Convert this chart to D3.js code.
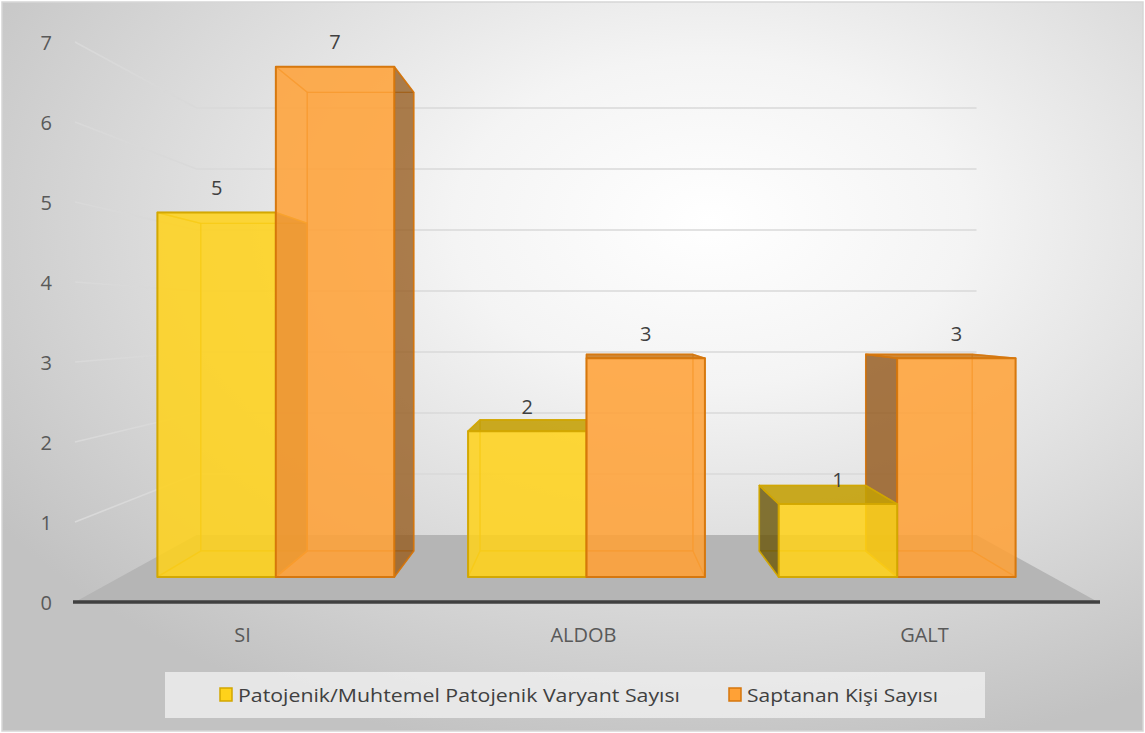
<!DOCTYPE html>
<html>
<head>
<meta charset="utf-8">
<script src="https://cdn.jsdelivr.net/npm/d3@7"></script>
<style>
  body { margin: 0; background: #fff; }
  svg { display: block; font-family: "Open Sans", "Noto Sans", sans-serif; }
</style>
</head>
<body>
<svg width="1145" height="733"></svg>
<script>
var categories = ["SI", "ALDOB", "GALT"];
var seriesNames = ["Patojenik/Muhtemel Patojenik Varyant Sayısı", "Saptanan Kişi Sayısı"];
var variantCounts = [5, 2, 1];
var personCounts = [7, 3, 3];
var yTicks = [0, 1, 2, 3, 4, 5, 6, 7];

var svg = d3.select("svg");
var width = +svg.attr("width");
var height = +svg.attr("height");

// colours per series
var palette = [
	{ front: "#ffd21a", stroke: "#d2a600", top: "#c29e05", side: "#5e4c08" },
	{ front: "#ffa136", stroke: "#d5760c", top: "#c97a1e", side: "#8a5218" }
];

// front plane scales
var x = d3.scaleBand().domain(categories).range([75, 1098]).paddingInner(0.2375).paddingOuter(0.11875);
var xs = d3.scaleBand().domain([0, 1]).range([0, x.bandwidth()]);
var y = d3.scaleLinear().domain([0, 7]).range([602, 42]);

// simple perspective: shrink toward a vanishing point
var vp = { x: (75 + 1098) / 2, y: 320 };
var sFront = 0.911, sBack = 0.819, sWall = 0.7625;
function P(X, Y, s) { return [vp.x + s * (X - vp.x), vp.y + s * (Y - vp.y)]; }
function poly(pts) { return "M" + pts.map(function(p) { return p[0] + "," + p[1]; }).join("L") + "Z"; }

// background
var defs = svg.append("defs");
var grad = defs.append("radialGradient").attr("id", "bg")
	.attr("cx", "62%").attr("cy", "30%").attr("r", "75%");
grad.append("stop").attr("offset", "0%").attr("stop-color", "#ffffff");
grad.append("stop").attr("offset", "30%").attr("stop-color", "#f4f4f4");
grad.append("stop").attr("offset", "100%").attr("stop-color", "#c2c2c2");

svg.append("rect").attr("x", 2).attr("y", 2).attr("width", width - 4).attr("height", height - 4)
	.attr("fill", "url(#bg)").attr("stroke", "#d6d6d6").attr("stroke-width", 1.5);

// gridlines: left wall + back wall
var grid = svg.append("g").attr("class", "grid");
yTicks.slice(1).forEach(function(v) {
	var a = P(75, y(v), 1), b = P(75, y(v), sWall), c = P(1098, y(v), sWall);
	grid.append("path").attr("d", "M" + a + "L" + b + "L" + c)
		.attr("fill", "none").attr("stroke", "#d9d9d9").attr("stroke-width", 1.6);
});

// floor
svg.append("path")
	.attr("d", poly([P(75, y(0), 1), P(1098, y(0), 1), P(1098, y(0), sWall), P(75, y(0), sWall)]))
	.attr("fill", "#b5b5b5");
svg.append("line")
	.attr("x1", 73).attr("x2", 1100).attr("y1", y(0)).attr("y2", y(0))
	.attr("stroke", "#404040").attr("stroke-width", 3.5);

// bars
var bars = [];
categories.forEach(function(c, i) {
	[variantCounts[i], personCounts[i]].forEach(function(v, j) {
		var x0 = x(c) + xs(j), x1 = x0 + xs.bandwidth();
		bars.push({ cat: c, series: j, value: v, x0: x0, x1: x1 });
	});
});
bars.sort(function(a, b) {
	return Math.abs((b.x0 + b.x1) / 2 - vp.x) - Math.abs((a.x0 + a.x1) / 2 - vp.x);
});

var barG = svg.append("g").attr("class", "bars");
bars.forEach(function(d) {
	var col = palette[d.series];
	var y0 = y(0), yv = y(d.value);
	var g = barG.append("g");
	function face(pts, fill, op, sw, sop) {
		g.append("path").attr("d", poly(pts))
			.attr("fill", fill).attr("fill-opacity", op)
			.attr("stroke", col.stroke).attr("stroke-width", sw).attr("stroke-opacity", sop)
			.attr("stroke-linejoin", "round");
	}
	var back = [P(d.x0, y0, sBack), P(d.x1, y0, sBack), P(d.x1, yv, sBack), P(d.x0, yv, sBack)];
	var bottom = [P(d.x0, y0, sFront), P(d.x1, y0, sFront), P(d.x1, y0, sBack), P(d.x0, y0, sBack)];
	var top = [P(d.x0, yv, sFront), P(d.x1, yv, sFront), P(d.x1, yv, sBack), P(d.x0, yv, sBack)];
	var left = [P(d.x0, y0, sFront), P(d.x0, yv, sFront), P(d.x0, yv, sBack), P(d.x0, y0, sBack)];
	var right = [P(d.x1, y0, sFront), P(d.x1, yv, sFront), P(d.x1, yv, sBack), P(d.x1, y0, sBack)];
	var front = [P(d.x0, y0, sFront), P(d.x1, y0, sFront), P(d.x1, yv, sFront), P(d.x0, yv, sFront)];

	var topVisible = yv > vp.y;
	var rightVisible = d.x1 < vp.x - 1;
	var leftVisible = d.x0 > vp.x + 1;

	face(back, col.front, 0.25, 1.3, 0.6);
	face(bottom, col.front, 0.35, 1.3, 0.6);
	if (!leftVisible) face(left, col.front, 0.2, 1.3, 0.6);
	if (!rightVisible) face(right, col.front, 0.2, 1.3, 0.6);
	if (!topVisible) face(top, col.front, 0.2, 1.3, 0.6);
	if (leftVisible) face(left, col.side, 0.75, 1.6, 0.9);
	if (rightVisible) face(right, col.side, 0.7, 1.6, 0.9);
	if (topVisible) face(top, col.top, 0.85, 1.6, 0.9);
	face(front, col.front, 0.82, 2, 0.95);
});

// data labels
var labelG = svg.append("g").attr("class", "labels");
bars.forEach(function(d) {
	var p = P((d.x0 + d.x1) / 2, y(d.value), sFront);
	labelG.append("text")
		.attr("x", p[0]).attr("y", p[1] - 25)
		.attr("text-anchor", "middle").attr("dominant-baseline", "central")
		.attr("font-size", 20).attr("fill", "#404040")
		.text(d.value);
});

// value axis labels
svg.append("g").selectAll("text").data(yTicks).enter().append("text")
	.attr("x", 52).attr("y", function(d) { return y(d); })
	.attr("text-anchor", "end").attr("dominant-baseline", "central")
	.attr("font-size", 20).attr("fill", "#595959")
	.text(function(d) { return d; });

// category labels
svg.append("g").selectAll("text").data(categories).enter().append("text")
	.attr("x", function(d) { return x(d) + x.bandwidth() / 2 - 3; })
	.attr("y", 634)
	.attr("text-anchor", "middle").attr("dominant-baseline", "central")
	.attr("font-size", 20).attr("fill", "#595959")
	.text(function(d) { return d; });

// legend
var legend = svg.append("g").attr("class", "legend");
legend.append("rect").attr("x", 165).attr("y", 672).attr("width", 820).attr("height", 46)
	.attr("fill", "#f2f2f2").attr("fill-opacity", 0.75);
var legendX = [220, 729];
var legendW = [442, 191];
seriesNames.forEach(function(name, j) {
	legend.append("rect").attr("x", legendX[j]).attr("y", 688).attr("width", 12).attr("height", 13)
		.attr("fill", palette[j].front).attr("stroke", palette[j].stroke).attr("stroke-width", 1.5);
	legend.append("text").attr("x", legendX[j] + 18).attr("y", 695)
		.attr("dominant-baseline", "central")
		.attr("font-size", 19).attr("fill", "#404040")
		.attr("textLength", legendW[j]).attr("lengthAdjust", "spacingAndGlyphs")
		.text(name);
});
</script>
</body>
</html>
